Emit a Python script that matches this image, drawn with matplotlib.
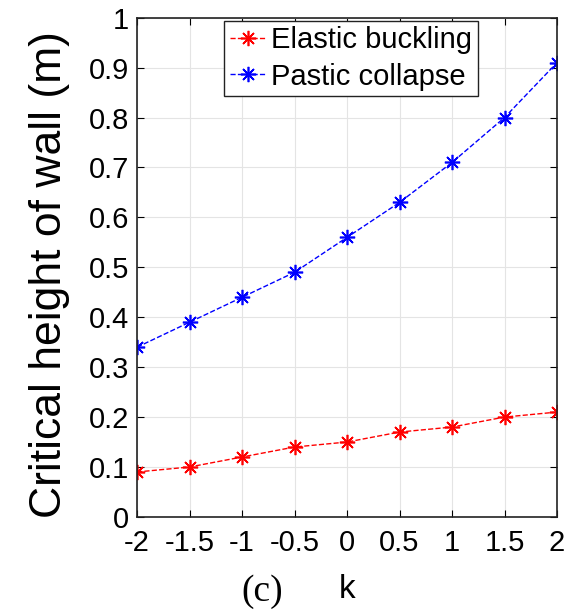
import numpy as np
import matplotlib.pyplot as plt

plt.rcParams['font.family'] = ['Liberation Sans', 'DejaVu Sans']

k = [-2, -1.5, -1, -0.5, 0, 0.5, 1, 1.5, 2]
elastic = [0.09, 0.10, 0.12, 0.14, 0.15, 0.17, 0.18, 0.20, 0.21]
plastic = [0.34, 0.39, 0.44, 0.49, 0.56, 0.63, 0.71, 0.80, 0.91]
xticks = [-2, -1.5, -1, -0.5, 0, 0.5, 1, 1.5, 2]
xticklabels = ['-2', '-1.5', '-1', '-0.5', '0', '0.5', '1', '1.5', '2']
yticks = np.round(np.arange(0, 1.01, 0.1), 1)
yticklabels = ['0', '0.1', '0.2', '0.3', '0.4', '0.5', '0.6', '0.7', '0.8', '0.9', '1']

fig = plt.figure(figsize=(5.76, 6.11), dpi=100)
ax = fig.add_axes([0.238, 0.154, 0.729, 0.817])

star = (8, 2, 0)
ax.plot(k, elastic, '--', marker=star, color='red', lw=1, ms=11, mew=1.2, label='Elastic buckling')
ax.plot(k, plastic, '--', marker=star, color='blue', lw=1, ms=11, mew=1.2, label='Pastic collapse')

ax.set_xlim(-2, 2)
ax.set_ylim(0, 1)
ax.set_xticks(xticks)
ax.set_xticklabels(xticklabels)
ax.set_yticks(yticks)
ax.set_yticklabels(yticklabels)
ax.tick_params(direction='in', labelsize=21, length=5, top=True, right=True)
ax.tick_params(axis='x', pad=9)
ax.tick_params(axis='y', pad=6)
ax.grid(True, color='#e4e4e4', lw=0.8)
for s in ax.spines.values():
    s.set_linewidth(1.2)
    s.set_color('#222222')

ax.set_ylabel('Critical height of wall (m)', fontsize=32)
ax.yaxis.set_label_coords(-0.16, 0.486)
fig.text(0.602, 0.021, 'k', fontsize=24, ha='center')
fig.text(0.455, 0.017, '(c)', fontsize=27, ha='center', family='Liberation Serif')

ax.legend(loc='upper center', fontsize=21, frameon=True, fancybox=False, edgecolor='#222222',
          handlelength=1.2, handletextpad=0.2, borderpad=0.2, labelspacing=0.28,
          borderaxespad=0.1, bbox_to_anchor=(0.51, 1.0), framealpha=1)

plt.savefig('out.png', dpi=100)
